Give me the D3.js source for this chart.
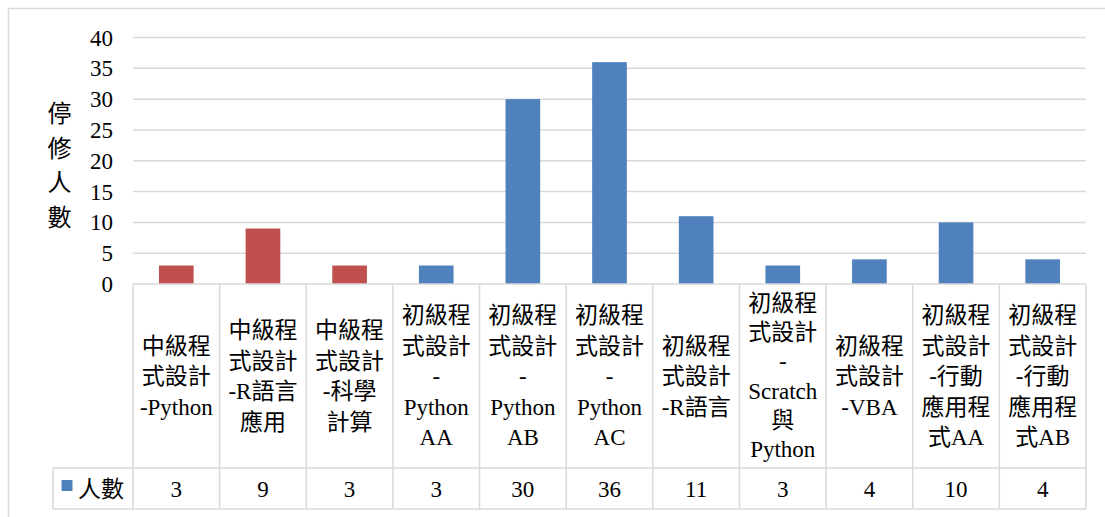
<!DOCTYPE html>
<html>
<head>
<meta charset="utf-8">
<script src="https://cdn.jsdelivr.net/npm/d3@7"></script>
<style>
  body { margin: 0; background: #fff; }
  svg text { font-family: "Liberation Serif", "Noto Sans CJK TC", serif; fill: #000; }
</style>
</head>
<body>
<svg id="chart" width="1105" height="517"></svg>
<script>
// data
const categories = [
    "中級程式設計-Python", "中級程式設計-R語言應用", "中級程式設計-科學計算",
    "初級程式設計-Python AA", "初級程式設計-Python AB", "初級程式設計-Python AC",
    "初級程式設計-R語言", "初級程式設計-Scratch與Python", "初級程式設計-VBA",
    "初級程式設計-行動應用程式AA", "初級程式設計-行動應用程式AB"
];
const labelLines = [
    ["中級程", "式設計", "-Python"],
    ["中級程", "式設計", "-R語言", "應用"],
    ["中級程", "式設計", "-科學", "計算"],
    ["初級程", "式設計", "-", "Python", "AA"],
    ["初級程", "式設計", "-", "Python", "AB"],
    ["初級程", "式設計", "-", "Python", "AC"],
    ["初級程", "式設計", "-R語言"],
    ["初級程", "式設計", "-", "Scratch", "與", "Python"],
    ["初級程", "式設計", "-VBA"],
    ["初級程", "式設計", "-行動", "應用程", "式AA"],
    ["初級程", "式設計", "-行動", "應用程", "式AB"]
];
const counts = [3, 9, 3, 3, 30, 36, 11, 3, 4, 10, 4];
const yTicks = [0, 5, 10, 15, 20, 25, 30, 35, 40];
const seriesName = "人數";
const yTitle = ["停", "修", "人", "數"];

const svg = d3.select("#chart");
const plotLeft = 133, plotRight = 1086, plotTop = 37.5, plotBottom = 284;
const labelBottom = 468, tableBottom = 509, legendLeft = 53;
const gridColor = "#d9d9d9";
const fs = 23;

const x = d3.scaleBand().domain(categories).range([plotLeft, plotRight]).padding(0);
const y = d3.scaleLinear().domain([0, 40]).range([plotBottom, plotTop]);
const barW = x.bandwidth() * 0.4;
const color = c => c.startsWith("中級") ? "#C0504D" : "#4F81BD";

// outer frame
svg.append("rect")
    .attr("x", 8.5).attr("y", 8.5)
    .attr("width", 1120).attr("height", 530)
    .attr("fill", "none")
    .attr("stroke", gridColor)
    .attr("stroke-width", 1.5);

// gridlines
svg.append("g").selectAll("line")
    .data(yTicks.filter(t => t > 0))
    .join("line")
    .attr("x1", plotLeft).attr("x2", plotRight)
    .attr("y1", d => y(d)).attr("y2", d => y(d))
    .attr("stroke", gridColor)
    .attr("stroke-width", 1.5);

// y tick labels
svg.append("g").selectAll("text")
    .data(yTicks)
    .join("text")
    .attr("x", 113)
    .attr("y", d => y(d))
    .attr("dy", "0.35em")
    .attr("text-anchor", "end")
    .style("font-size", fs + "px")
    .text(d => d);

// y title, one char per line
svg.append("g").selectAll("text")
    .data(yTitle)
    .join("text")
    .attr("x", 59.5)
    .attr("y", (d, i) => 114 + i * 34.5)
    .attr("dy", "0.35em")
    .attr("text-anchor", "middle")
    .style("font-size", "24px")
    .text(d => d);

// bars
svg.append("g").selectAll("rect")
    .data(categories)
    .join("rect")
    .attr("x", d => x(d) + (x.bandwidth() - barW) / 2)
    .attr("y", (d, i) => y(counts[i]))
    .attr("width", barW)
    .attr("height", (d, i) => y(0) - y(counts[i]))
    .attr("fill", d => color(d));

// data table lines
const table = svg.append("g")
    .attr("stroke", gridColor)
    .attr("stroke-width", 1.5);

table.append("line").attr("x1", plotLeft).attr("x2", plotRight).attr("y1", plotBottom).attr("y2", plotBottom);
table.append("line").attr("x1", legendLeft).attr("x2", plotRight).attr("y1", labelBottom).attr("y2", labelBottom);
table.append("line").attr("x1", legendLeft).attr("x2", plotRight).attr("y1", tableBottom).attr("y2", tableBottom);
table.append("line").attr("x1", legendLeft).attr("x2", legendLeft).attr("y1", labelBottom).attr("y2", tableBottom);

table.selectAll(".vline")
    .data(categories.map(c => x(c)).concat([plotRight]))
    .join("line")
    .attr("class", "vline")
    .attr("x1", d => d).attr("x2", d => d)
    .attr("y1", plotBottom).attr("y2", tableBottom);

// category labels, centred in their cells
const labelMid = (plotBottom + labelBottom) / 2;
categories.forEach((c, i) => {
    const lines = labelLines[i];
    const lineH = lines.length > 5 ? 29.2 : 30.5;
    const cx = x(c) + x.bandwidth() / 2;
    const y0 = labelMid - (lines.length - 1) * lineH / 2;
    svg.append("g").selectAll("text")
        .data(lines)
        .join("text")
        .attr("x", cx)
        .attr("y", (d, j) => y0 + j * lineH)
        .attr("dy", "0.35em")
        .attr("text-anchor", "middle")
        .style("font-size", fs + "px")
        .text(d => d);
});

// values row
const rowMid = (labelBottom + tableBottom) / 2;
svg.append("g").selectAll("text")
    .data(categories)
    .join("text")
    .attr("x", d => x(d) + x.bandwidth() / 2)
    .attr("y", rowMid)
    .attr("dy", "0.35em")
    .attr("text-anchor", "middle")
    .style("font-size", fs + "px")
    .text((d, i) => counts[i]);

// legend key
svg.append("rect")
    .attr("x", 61.5).attr("y", 480)
    .attr("width", 11).attr("height", 11)
    .attr("fill", "#4F81BD");

svg.append("text")
    .attr("x", 78)
    .attr("y", rowMid)
    .attr("dy", "0.35em")
    .style("font-size", fs + "px")
    .text(seriesName);
</script>
</body>
</html>
